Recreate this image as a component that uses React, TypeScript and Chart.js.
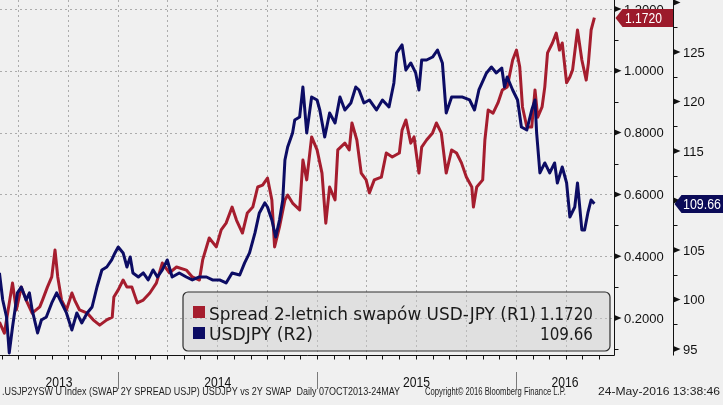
import React, { useEffect, useRef } from 'react';
import { Chart, registerables } from 'chart.js';

Chart.register(...registerables);

// ---------- DATA ----------
const spreadDates = [
  '2013-05-28','2013-06-06','2013-06-21','2013-06-28','2013-07-07','2013-07-16','2013-07-27','2013-08-10','2013-08-15','2013-08-24',
  '2013-09-01','2013-09-07','2013-09-12','2013-09-19','2013-09-28','2013-10-08','2013-10-13','2013-10-22','2013-11-05','2013-11-16',
  '2013-11-28','2013-12-11','2013-12-21','2013-12-24','2014-01-01','2014-01-10','2014-01-17','2014-01-26','2014-02-05','2014-02-16',
  '2014-02-28','2014-03-12','2014-03-23','2014-04-05','2014-04-18','2014-05-06','2014-05-17','2014-05-30','2014-06-05','2014-06-17',
  '2014-06-30','2014-07-09','2014-07-18','2014-07-29','2014-08-06','2014-08-17','2014-08-26','2014-09-05','2014-09-14','2014-09-23',
  '2014-10-02','2014-10-10','2014-10-15','2014-10-24','2014-11-03','2014-11-08','2014-11-17','2014-11-30','2014-12-06','2014-12-13',
  '2014-12-22','2015-01-01','2015-01-10','2015-01-17','2015-01-24','2015-02-03','2015-02-08','2015-02-21','2015-03-01','2015-03-06',
  '2015-03-15','2015-03-23','2015-04-01','2015-04-07','2015-04-16','2015-04-29','2015-05-08','2015-05-19','2015-06-01','2015-06-06',
  '2015-06-13','2015-06-22','2015-06-28','2015-07-07','2015-07-12','2015-07-21','2015-08-01','2015-08-08','2015-08-17','2015-08-26',
  '2015-09-05','2015-09-14','2015-09-23','2015-10-02','2015-10-12','2015-10-15','2015-10-21','2015-11-01','2015-11-05','2015-11-11',
  '2015-11-20','2015-11-29','2015-12-07','2015-12-16','2015-12-26','2016-01-02','2016-01-08','2016-01-13','2016-01-21','2016-01-30',
  '2016-02-05','2016-02-10','2016-02-18','2016-02-23','2016-02-28','2016-03-08','2016-03-15','2016-03-21','2016-03-26','2016-04-03',
  '2016-04-09','2016-04-14','2016-04-23','2016-05-01','2016-05-09','2016-05-13','2016-05-18','2016-05-24',
];
const spreadValues = [
  0.187,0.151,0.313,0.226,0.300,0.258,0.216,0.236,0.258,0.300,
  0.333,0.420,0.333,0.258,0.226,0.281,0.258,0.226,0.216,0.194,
  0.177,0.194,0.203,0.268,0.291,0.323,0.300,0.300,0.249,0.258,
  0.281,0.313,0.378,0.346,0.365,0.355,0.333,0.323,0.388,0.459,
  0.430,0.485,0.507,0.559,0.517,0.475,0.540,0.559,0.624,0.630,
  0.653,0.582,0.430,0.495,0.582,0.598,0.572,0.550,0.711,0.647,
  0.786,0.744,0.669,0.507,0.624,0.582,0.744,0.766,0.744,0.831,
  0.776,0.669,0.647,0.605,0.647,0.656,0.734,0.721,0.734,0.808,
  0.841,0.766,0.786,0.669,0.753,0.776,0.799,0.831,0.799,0.669,
  0.744,0.734,0.702,0.656,0.624,0.559,0.624,0.647,0.776,0.873,
  0.863,0.896,0.938,0.948,1.035,1.067,1.012,0.883,0.818,0.818,
  0.938,0.850,0.883,0.948,1.058,1.090,1.122,1.067,1.090,0.961,
  0.980,1.003,1.132,1.035,0.970,1.025,1.132,1.172,
];

const usdjpyDates = [
  '2013-05-28','2013-06-03','2013-06-10','2013-06-15','2013-06-21','2013-06-30','2013-07-07','2013-07-16','2013-07-22','2013-07-27',
  '2013-08-06','2013-08-13','2013-08-22','2013-09-01','2013-09-10','2013-09-19','2013-09-28','2013-10-08','2013-10-17','2013-10-26',
  '2013-11-05','2013-11-14','2013-11-23','2013-12-02','2013-12-11','2013-12-20','2013-12-26','2014-01-01','2014-01-10','2014-01-17',
  '2014-01-23','2014-01-28','2014-02-07','2014-02-16','2014-02-25','2014-03-06','2014-03-14','2014-03-23','2014-04-01','2014-04-10',
  '2014-04-23','2014-05-06','2014-05-17','2014-05-30','2014-06-12','2014-06-23','2014-07-06','2014-07-18','2014-07-29','2014-08-12',
  '2014-08-21','2014-08-30','2014-09-09','2014-09-17','2014-09-27','2014-10-02','2014-10-10','2014-10-17','2014-10-24','2014-10-30',
  '2014-11-03','2014-11-08','2014-11-17','2014-11-21','2014-11-30','2014-12-06','2014-12-13','2014-12-22','2015-01-01','2015-01-06',
  '2015-01-15','2015-01-24','2015-02-03','2015-02-12','2015-02-21','2015-03-04','2015-03-13','2015-03-19','2015-03-28','2015-04-07',
  '2015-04-20','2015-05-01','2015-05-13','2015-05-22','2015-05-27','2015-06-06','2015-06-13','2015-06-22','2015-07-01','2015-07-07',
  '2015-07-12','2015-07-21','2015-08-01','2015-08-10','2015-08-19','2015-08-26','2015-09-05','2015-09-14','2015-09-25','2015-10-08',
  '2015-10-17','2015-10-25','2015-11-08','2015-11-17','2015-11-26','2015-12-06','2015-12-11','2015-12-16','2015-12-26','2016-01-04',
  '2016-01-11','2016-01-21','2016-01-30','2016-02-05','2016-02-08','2016-02-14','2016-02-23','2016-03-03','2016-03-12','2016-03-17',
  '2016-03-26','2016-04-03','2016-04-09','2016-04-18','2016-04-23','2016-05-01','2016-05-06','2016-05-12','2016-05-18','2016-05-24',
];
const usdjpyValues = [
  102.68,99.95,98.23,94.60,97.22,100.66,101.26,99.95,100.66,98.94,
  96.62,97.93,98.23,99.65,100.66,99.65,98.64,96.92,98.64,97.63,
  98.64,99.24,101.26,102.98,103.28,103.99,104.70,105.30,104.70,103.28,
  104.29,102.68,102.27,102.68,101.97,102.98,102.27,102.98,103.99,102.27,
  102.68,102.27,101.97,102.27,102.27,101.97,101.97,101.67,102.68,102.47,
  103.69,104.70,106.72,108.74,109.75,109.34,108.03,106.31,108.03,110.05,
  114.09,115.40,116.82,118.13,118.43,121.46,116.82,120.45,120.15,119.14,
  116.41,118.84,117.83,120.45,119.14,119.85,121.46,121.16,119.85,120.15,
  119.14,120.15,119.44,121.87,124.90,125.71,123.18,123.89,122.88,121.16,
  124.19,124.19,124.49,125.20,123.89,118.84,120.45,120.45,120.45,120.15,
  119.14,121.16,122.88,123.48,122.88,123.38,121.46,122.47,121.16,120.15,
  117.42,117.12,119.14,120.15,116.82,112.78,113.79,112.78,113.79,111.77,
  113.38,111.77,108.33,109.34,111.77,107.02,107.02,108.74,110.05,109.66,
];

const r1Ticks = [0.2, 0.4, 0.6, 0.8, 1.0, 1.2];
const r1TickLabels = ['0.2000', '0.4000', '0.6000', '0.8000', '1.0000', '1.2000'];
const r1MinorTicks = [0.1, 0.3, 0.5, 0.7, 0.9, 1.1];
const r2Ticks = [95, 100, 105, 110, 115, 120, 125, 130];
const r2TickLabels = ['95', '100', '105', '110', '115', '120', '125', ''];
const r2MinorTicks = [97.5, 102.5, 107.5, 112.5, 117.5, 122.5, 127.5];
const yearLabels = ['2013', '2014', '2015', '2016'];
const yearStarts = ['2013-01-01', '2014-01-01', '2015-01-01', '2016-01-01', '2017-01-01'];
const legendLabels = ['Spread 2-letnich swapów USD-JPY (R1)', 'USDJPY (R2)'];
const footerTexts = [
  '.USJP2YSW U Index (SWAP 2Y SPREAD USJP) USDJPY vs 2Y SWAP  Daily 07OCT2013-24MAY',
  'Copyright\u00A9 2016 Bloomberg Finance L.P.',
  '24-May-2016 13:38:46',
];

const X_MIN = '2013-05-29';
const X_MAX = '2016-06-29';

// ---------- STYLE ----------
const BG = '#f0f0f0';
const RED = '#a51d2e';
const NAVY = '#0c0c64';
const BADGE_RED = '#9c1a2b';
const BADGE_NAVY = '#0b0b58';
const FONT = '"Liberation Sans", Arial, sans-serif';
const LEGEND_FONT = '"DejaVu Sans", Verdana, sans-serif';

function fitText(ctx: CanvasRenderingContext2D, text: string, x: number, y: number, w: number, align: 'left' | 'right' | 'center') {
  const m = ctx.measureText(text).width || 1;
  const s = w / m;
  const x0 = align === 'left' ? x : align === 'right' ? x - w : x - w / 2;
  ctx.save();
  ctx.translate(x0, y);
  ctx.scale(s, 1);
  ctx.textAlign = 'left';
  ctx.fillText(text, 0, 0);
  ctx.restore();
}

function monthStarts(minMs: number, maxMs: number) {
  const out: { ms: number; month: number }[] = [];
  const d = new Date(minMs);
  let y = d.getUTCFullYear();
  let m = d.getUTCMonth() + 1;
  for (;;) {
    if (m > 11) { m = 0; y++; }
    const ms = Date.UTC(y, m, 1);
    if (ms > maxMs) break;
    out.push({ ms, month: m });
    m++;
  }
  return out;
}

function badge(ctx: CanvasRenderingContext2D, tipX: number, cy: number, rightX: number, h: number, color: string, text: string, textX: number, textW: number) {
  ctx.save();
  ctx.fillStyle = color;
  ctx.beginPath();
  ctx.moveTo(tipX, cy);
  ctx.lineTo(tipX + 7, cy - h / 2);
  ctx.lineTo(rightX, cy - h / 2);
  ctx.lineTo(rightX, cy + h / 2);
  ctx.lineTo(tipX + 7, cy + h / 2);
  ctx.closePath();
  ctx.fill();
  ctx.fillStyle = '#ffffff';
  ctx.font = `14px ${FONT}`;
  ctx.textBaseline = 'middle';
  fitText(ctx, text, textX, cy + 1, textW, 'left');
  ctx.restore();
}

const bbgPlugin = {
  id: 'bbg',
  beforeDraw(chart: any) {
    const ctx = chart.ctx as CanvasRenderingContext2D;
    ctx.save();
    ctx.fillStyle = BG;
    ctx.fillRect(0, 0, chart.width, chart.height);
    ctx.restore();
  },
  beforeDatasetsDraw(chart: any) {
    const ctx = chart.ctx as CanvasRenderingContext2D;
    const a = chart.chartArea;
    const x = chart.scales.x;
    const y1 = chart.scales.y1;
    ctx.save();
    ctx.strokeStyle = '#acacac';
    ctx.lineWidth = 1;
    ctx.setLineDash([2, 3]);
    for (const v of r1Ticks) {
      const py = Math.round(y1.getPixelForValue(v)) + 0.5;
      ctx.beginPath();
      ctx.moveTo(a.left, py);
      ctx.lineTo(a.right, py);
      ctx.stroke();
    }
    for (const ms of monthStarts(x.min, x.max)) {
      if (ms.month % 3 !== 0) continue;
      const px = Math.round(x.getPixelForValue(ms.ms)) + 0.5;
      ctx.beginPath();
      ctx.moveTo(px, a.top);
      ctx.lineTo(px, a.bottom);
      ctx.stroke();
    }
    ctx.restore();
  },
  afterDatasetsDraw(chart: any) {
    const ctx = chart.ctx as CanvasRenderingContext2D;
    // legend box
    ctx.save();
    const bx = 183, by = 292, bw = 427, bh = 59, r = 5;
    ctx.beginPath();
    ctx.moveTo(bx + r, by);
    ctx.arcTo(bx + bw, by, bx + bw, by + bh, r);
    ctx.arcTo(bx + bw, by + bh, bx, by + bh, r);
    ctx.arcTo(bx, by + bh, bx, by, r);
    ctx.arcTo(bx, by, bx + bw, by, r);
    ctx.closePath();
    ctx.fillStyle = 'rgba(205,205,205,0.45)';
    ctx.fill();
    ctx.strokeStyle = '#2e2e2e';
    ctx.lineWidth = 1.2;
    ctx.stroke();
    ctx.fillStyle = RED;
    ctx.fillRect(193, 306, 12, 12);
    ctx.fillStyle = NAVY;
    ctx.fillRect(193, 327, 12, 12);
    ctx.fillStyle = '#1a1a1a';
    ctx.font = `17px ${LEGEND_FONT}`;
    ctx.textBaseline = 'alphabetic';
    const lastSpread = spreadValues[spreadValues.length - 1].toFixed(4);
    const lastJpy = usdjpyValues[usdjpyValues.length - 1].toFixed(2);
    fitText(ctx, legendLabels[0], 209, 320, 327, 'left');
    fitText(ctx, lastSpread, 593, 320, 53, 'right');
    fitText(ctx, legendLabels[1], 209, 340, 104, 'left');
    fitText(ctx, lastJpy, 593, 340, 53, 'right');
    ctx.restore();
  },
  afterDraw(chart: any) {
    const ctx = chart.ctx as CanvasRenderingContext2D;
    const a = chart.chartArea;
    const x = chart.scales.x;
    const y1 = chart.scales.y1;
    const y2 = chart.scales.y2;
    const r1x = Math.round(a.right) + 0.5;
    const r2x = 673.5;
    const bottom = Math.round(a.bottom) + 0.5;
    ctx.save();
    ctx.strokeStyle = '#111';
    ctx.fillStyle = '#111';
    ctx.lineWidth = 1;
    ctx.setLineDash([]);
    ctx.beginPath();
    ctx.moveTo(a.left, bottom);
    ctx.lineTo(r1x, bottom);
    ctx.moveTo(r1x, 0);
    ctx.lineTo(r1x, bottom);
    ctx.moveTo(r2x, 0);
    ctx.lineTo(r2x, bottom);
    ctx.stroke();
    ctx.beginPath();
    for (const ms of monthStarts(x.min, x.max)) {
      const px = Math.round(x.getPixelForValue(ms.ms)) + 0.5;
      ctx.moveTo(px, bottom);
      ctx.lineTo(px, bottom + 4);
    }
    ctx.stroke();
    ctx.beginPath();
    for (const v of r1MinorTicks) {
      const py = Math.round(y1.getPixelForValue(v)) + 0.5;
      ctx.moveTo(r1x, py);
      ctx.lineTo(r1x + 4, py);
    }
    for (const v of r2MinorTicks) {
      const py = Math.round(y2.getPixelForValue(v)) + 0.5;
      ctx.moveTo(r2x, py);
      ctx.lineTo(r2x + 4, py);
    }
    ctx.stroke();
    const tri = (x0: number, py: number) => {
      ctx.beginPath();
      ctx.moveTo(x0, py - 3);
      ctx.lineTo(x0 + 7, py);
      ctx.lineTo(x0, py + 3);
      ctx.closePath();
      ctx.fill();
    };
    ctx.font = `13px ${FONT}`;
    ctx.textBaseline = 'middle';
    ctx.textAlign = 'left';
    r1Ticks.forEach((v, i) => {
      const py = y1.getPixelForValue(v);
      tri(r1x, py);
      ctx.fillText(r1TickLabels[i], 624, py + 1);
    });
    r2Ticks.forEach((v, i) => {
      const py = y2.getPixelForValue(v);
      tri(r2x, py);
      if (r2TickLabels[i]) ctx.fillText(r2TickLabels[i], 683, py + 1);
    });
    ctx.strokeStyle = '#7a7a7a';
    ctx.beginPath();
    for (let i = 1; i < yearStarts.length - 1; i++) {
      const px = Math.round(x.getPixelForValue(Date.parse(yearStarts[i]))) + 0.5;
      ctx.moveTo(px, 372);
      ctx.lineTo(px, 389);
    }
    ctx.stroke();
    ctx.fillStyle = '#111';
    ctx.font = `15px ${FONT}`;
    ctx.textBaseline = 'alphabetic';
    yearLabels.forEach((lbl, i) => {
      const s = Math.max(x.min, Date.parse(yearStarts[i]));
      const e = Math.min(x.max, Date.parse(yearStarts[i + 1]));
      const cx = (x.getPixelForValue(s) + x.getPixelForValue(e)) / 2;
      fitText(ctx, lbl, cx, 386.5, 27, 'center');
    });
    ctx.fillStyle = '#222';
    ctx.font = `10px ${FONT}`;
    fitText(ctx, footerTexts[0], 2, 394.5, 398, 'left');
    fitText(ctx, footerTexts[1], 425, 394.5, 141, 'left');
    fitText(ctx, footerTexts[2], 598, 394.5, 122, 'left');
    const lastSpread = spreadValues[spreadValues.length - 1];
    const lastJpy = usdjpyValues[usdjpyValues.length - 1];
    badge(ctx, r1x + 1, Math.round(y1.getPixelForValue(lastSpread)), 673, 18, BADGE_RED, lastSpread.toFixed(4), 625, 37);
    badge(ctx, r2x + 1, Math.round(y2.getPixelForValue(lastJpy)), 723, 18, BADGE_NAVY, lastJpy.toFixed(2), 683, 38);
    ctx.restore();
  },
};

export default function App() {
  const ref = useRef<HTMLCanvasElement | null>(null);
  useEffect(() => {
    const canvas = ref.current;
    if (!canvas) return;
    const toPts = (dates: string[], vals: number[]) => dates.map((d, i) => ({ x: Date.parse(d), y: vals[i] }));
    const chart = new Chart(canvas, {
      type: 'line',
      data: {
        datasets: [
          {
            label: legendLabels[1],
            data: toPts(usdjpyDates, usdjpyValues),
            yAxisID: 'y2',
            borderColor: NAVY,
            borderWidth: 3,
            pointRadius: 0,
            tension: 0,
            fill: false,
            borderJoinStyle: 'round',
          },
          {
            label: legendLabels[0],
            data: toPts(spreadDates, spreadValues),
            yAxisID: 'y1',
            borderColor: RED,
            borderWidth: 3,
            pointRadius: 0,
            tension: 0,
            fill: false,
            borderJoinStyle: 'round',
          },
        ],
      },
      options: {
        responsive: false,
        animation: false,
        devicePixelRatio: 1,
        events: [],
        layout: { padding: { left: 0, top: 0, right: 109, bottom: 50 } },
        scales: {
          x: { type: 'linear', display: false, min: Date.parse(X_MIN), max: Date.parse(X_MAX) },
          y1: { type: 'linear', display: false, min: 0.0803, max: 1.2291 },
          y2: { type: 'linear', display: false, min: 94.39, max: 130.25 },
        },
        plugins: { legend: { display: false }, tooltip: { enabled: false } },
      },
      plugins: [bbgPlugin],
    } as any);
    return () => chart.destroy();
  }, []);
  return (
    <div style={{ position: 'fixed', left: 0, top: 0, width: 723, height: 405, background: BG }}>
      <canvas ref={ref} width={723} height={405} style={{ display: 'block' }} />
    </div>
  );
}
